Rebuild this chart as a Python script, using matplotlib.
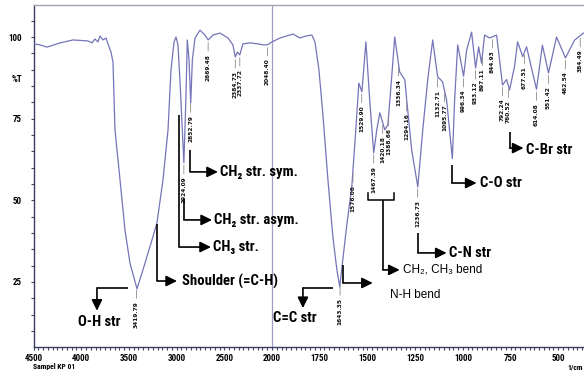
import numpy as np
import matplotlib
matplotlib.use("Agg")
import matplotlib.pyplot as plt
from matplotlib import font_manager as fm

# ---------------- data ----------------
wavenumber = [4500, 4432, 4359, 4222, 4086, 3929, 3887, 3856, 3824, 3803, 3772, 3740,
              3719, 3688, 3667, 3646, 3593, 3541, 3489, 3415, 3331, 3258, 3206, 3143,
              3090, 3059, 3027, 3006, 2986, 2965, 2924, 2903, 2888, 2870, 2852, 2835,
              2807, 2755, 2703, 2669, 2619, 2545, 2462, 2410, 2385, 2362, 2338, 2305,
              2231, 2147, 2095, 2048, 2000,
              1958, 1890, 1854, 1822, 1791, 1775, 1754, 1733, 1707, 1681, 1660, 1645,
              1629, 1608, 1582, 1561, 1545, 1529, 1508, 1487, 1467, 1451, 1435, 1409,
              1393, 1372, 1357, 1331, 1304, 1294, 1268, 1236, 1210, 1184, 1158, 1132,
              1116, 1106, 1085, 1055, 1043, 1027, 996, 980, 954, 933, 917, 902, 886,
              860, 823, 792, 771, 755, 729, 713, 686, 666, 614, 583, 551, 509, 462,
              415, 368]
transmittance = [97.9, 97.6, 96.9, 98.2, 99.1, 98.8, 98.2, 99.4, 98.5, 100.3, 99.1, 99.7,
                 97.9, 95.4, 92.4, 71.6, 56.2, 40.9, 30.8, 22.9, 30.8, 37.9, 43.1, 56.2,
                 71.6, 89.9, 98.5, 100.0, 97.6, 86.8, 61.5, 80.7, 99.1, 93.0, 79.8, 93.0,
                 99.7, 102.1, 100.6, 99.1, 100.6, 101.2, 99.7, 97.6, 93.9, 95.4, 94.5, 97.9,
                 98.2, 97.9, 97.6, 97.6, 98.5,
                 99.7, 100.9, 99.7, 100.3, 100.6, 98.5, 89.9, 76.0, 56.3, 38.8, 28.7, 23.5,
                 31.8, 42.5, 54.1, 71.6, 85.9, 83.2, 98.5, 79.8, 64.5, 71.6, 76.8, 71.6,
                 73.1, 88.4, 100.0, 89.3, 86.9, 80.7, 65.4, 54.1, 71.6, 86.9, 99.1, 87.8,
                 86.9, 86.2, 80.7, 62.8, 80.7, 97.6, 88.0, 96.0, 101.5, 90.5, 97.0, 92.0, 100.6,
                 99.7, 100.6, 85.3, 87.0, 83.8, 91.0, 98.5, 94.0, 97.0, 84.0, 97.5, 89.0, 100.0, 93.6,
                 99.0, 101.2]

peak_labels = ["3419.79", "2924.09", "2852.79", "2669.48", "2384.73", "2337.72", "2048.40",
               "1643.35", "1576.06", "1529.90", "1467.39", "1420.18", "1388.66", "1336.34",
               "1294.16", "1236.73", "1132.71", "1095.77", "996.34", "933.12", "897.11",
               "844.93", "792.24", "760.52", "677.51", "614.08", "551.42", "462.54", "384.49"]

x_major = [4500, 4000, 3500, 3000, 2500, 2000, 1750, 1500, 1250, 1000, 750, 500]
y_major = [25, 50, 75, 100]

# ---------------- fonts ----------------
ttf = fm.fontManager.ttflist
names = {f.name for f in ttf}
if "Liberation Sans Narrow" in names:
    NARROW = {"family": ["Liberation Sans Narrow", "DejaVu Sans"]}
elif "Roboto Condensed" in names:
    NARROW = {"family": ["Roboto Condensed", "DejaVu Sans"]}
elif any(f.name == "DejaVu Sans" and f.stretch == "condensed" for f in ttf):
    NARROW = {"family": ["DejaVu Sans"], "stretch": "condensed"}
else:
    NARROW = {"family": ["Liberation Sans", "DejaVu Sans"]}

def nfont(size, weight="bold"):
    d = dict(NARROW)
    d.update(size=size, weight=weight)
    return d

# ---------------- figure ----------------
W, H = 584, 379
fig = plt.figure(figsize=(W / 100, H / 100), dpi=100)
ax = fig.add_axes([33.5 / W, 32 / H, (W - 33.5) / W, 342 / H])

def fwd(x):
    x = np.asarray(x, dtype=float)
    return np.where(x >= 2000, x, 2 * x - 2000)

def inv(y):
    y = np.asarray(y, dtype=float)
    return np.where(y >= 2000, y, (y + 2000) / 2)

ax.set_xscale("function", functions=(fwd, inv))
ax.set_xlim(4500, 365)
ax.set_ylim(5.1, 109.8)

spec_x = np.array(wavenumber, dtype=float)
spec_y = np.array(transmittance, dtype=float)
ax.plot(spec_x, spec_y, color="#7474b8", lw=0.9, zorder=3)

# separator at 2000
ax.axvline(2000, color="#a0a0c4", lw=0.9, zorder=1)

# ticks
ax.set_xticks(x_major)
ax.set_xticklabels([str(v) for v in x_major])
minor_x = [v for v in range(4450, 2000, -50)] + [v for v in range(1975, 365, -25)]
minor_x = [v for v in minor_x if v not in x_major]
ax.set_xticks(minor_x, minor=True)
ax.set_yticks(y_major)
ax.set_yticklabels([str(v) for v in y_major])
ax.set_yticks([v for v in range(10, 110, 5) if v not in y_major], minor=True)
ax.tick_params(axis="both", which="both", direction="out", length=2.2, width=0.8,
               color="#404060")
ax.tick_params(axis="x", pad=2.5)
ax.tick_params(axis="y", pad=6)
for lab in ax.get_xticklabels() + ax.get_yticklabels():
    lab.set_fontproperties(fm.FontProperties(**nfont(6.5)))
ax.text(-0.021, 87, "%T", transform=ax.get_yaxis_transform(), ha="right", va="center",
        **nfont(6.5))

for s in ["left", "bottom"]:
    ax.spines[s].set_color("#3c3c60")
    ax.spines[s].set_linewidth(1.0)
ax.spines["top"].set_color("#a0a0b8")
ax.spines["top"].set_linewidth(1.0)
ax.spines["right"].set_visible(False)

fig.text(33 / W, 1 - 366 / H, "Sampel KP 01", ha="left", va="center", **nfont(5.5))
fig.text(583 / W, 1 - 367 / H, "1/cm", ha="right", va="center", **nfont(5.5))

# peak value labels
order = np.argsort(spec_x)
for lab in peak_labels:
    wn = float(lab)
    t = np.interp(wn, spec_x[order], spec_y[order])
    ax.annotate(lab, xy=(wn, t), xytext=(0, -10), textcoords="offset points",
                rotation=90, ha="center", va="top", fontsize=4.2, fontweight="bold",
                family="DejaVu Sans", color="#111111",
                arrowprops=dict(arrowstyle="-", color="#8a8a8a", lw=0.6,
                                shrinkA=0, shrinkB=2), zorder=4)

# assignment annotations
ARROW = dict(arrowstyle="-|>,head_length=0.65,head_width=0.32", color="k", lw=1.2,
             shrinkA=0, shrinkB=0, mutation_scale=10)

def elbow(points):
    xs = [p[0] for p in points]
    ys = [p[1] for p in points]
    ax.plot(xs[:-1], ys[:-1], color="k", lw=1.2, zorder=5, solid_capstyle="butt")
    ax.annotate("", xy=points[-1], xytext=points[-2], arrowprops=ARROW, zorder=5)

BIG = 10.6

elbow([(3510, 23.2), (3835, 23.2), (3835, 16.2)])
ax.text(3814, 12.8, "O-H str", ha="center", va="center", **nfont(BIG))

elbow([(3206, 42.8), (3206, 25.3), (2996, 25.3)])
ax.text(2944, 25.3, "Shoulder (=C-H)", ha="left", va="center", **nfont(BIG))

elbow([(2975, 76.1), (2975, 35.7), (2640, 35.7)])
ax.text(2615, 35.7, "CH\u2083 str.", ha="left", va="center", **nfont(BIG))

elbow([(2924, 50.3), (2924, 44.0), (2629, 44.0)])
ax.text(2610, 44.0, "CH\u2082 str. asym.", ha="left", va="center", **nfont(BIG))

elbow([(2860, 65.4), (2860, 58.7), (2567, 58.7)])
ax.text(2545, 58.7, "CH\u2082 str. sym.", ha="left", va="center", **nfont(BIG))

elbow([(1681, 23.2), (1838, 23.2), (1838, 17.0)])
ax.text(1880, 14.0, "C=C str", ha="center", va="center", **nfont(BIG))

elbow([(1629, 30.2), (1629, 24.7), (1472, 24.7)])
ax.text(1383, 21.0, "N-H bend", ha="left", va="center", fontsize=8.5,
        family=["Liberation Sans", "DejaVu Sans"])

# bracket for CH2/CH3 bend
ax.plot([1498, 1498, 1362, 1362], [52.2, 50.1, 50.1, 52.2], color="k", lw=1.1, zorder=5)
elbow([(1420, 50.1), (1420, 28.7), (1331, 28.7)])
ax.text(1315, 28.7, "CH\u2082, CH\u2083 bend", ha="left", va="center", fontsize=8.5,
        family=["Liberation Sans", "DejaVu Sans"])

elbow([(1236, 40.0), (1236, 33.9), (1085, 33.9)])
ax.text(1074, 33.9, "C-N str", ha="left", va="center", **nfont(BIG))

elbow([(1058, 60.8), (1058, 55.3), (928, 55.3)])
ax.text(912, 55.3, "C-O str", ha="left", va="center", **nfont(BIG))

elbow([(755, 70.9), (755, 66.0), (682, 66.0)])
ax.text(671, 65.5, "C-Br str", ha="left", va="center", **nfont(BIG))

fig.savefig("out.png", dpi=100, facecolor="white")
